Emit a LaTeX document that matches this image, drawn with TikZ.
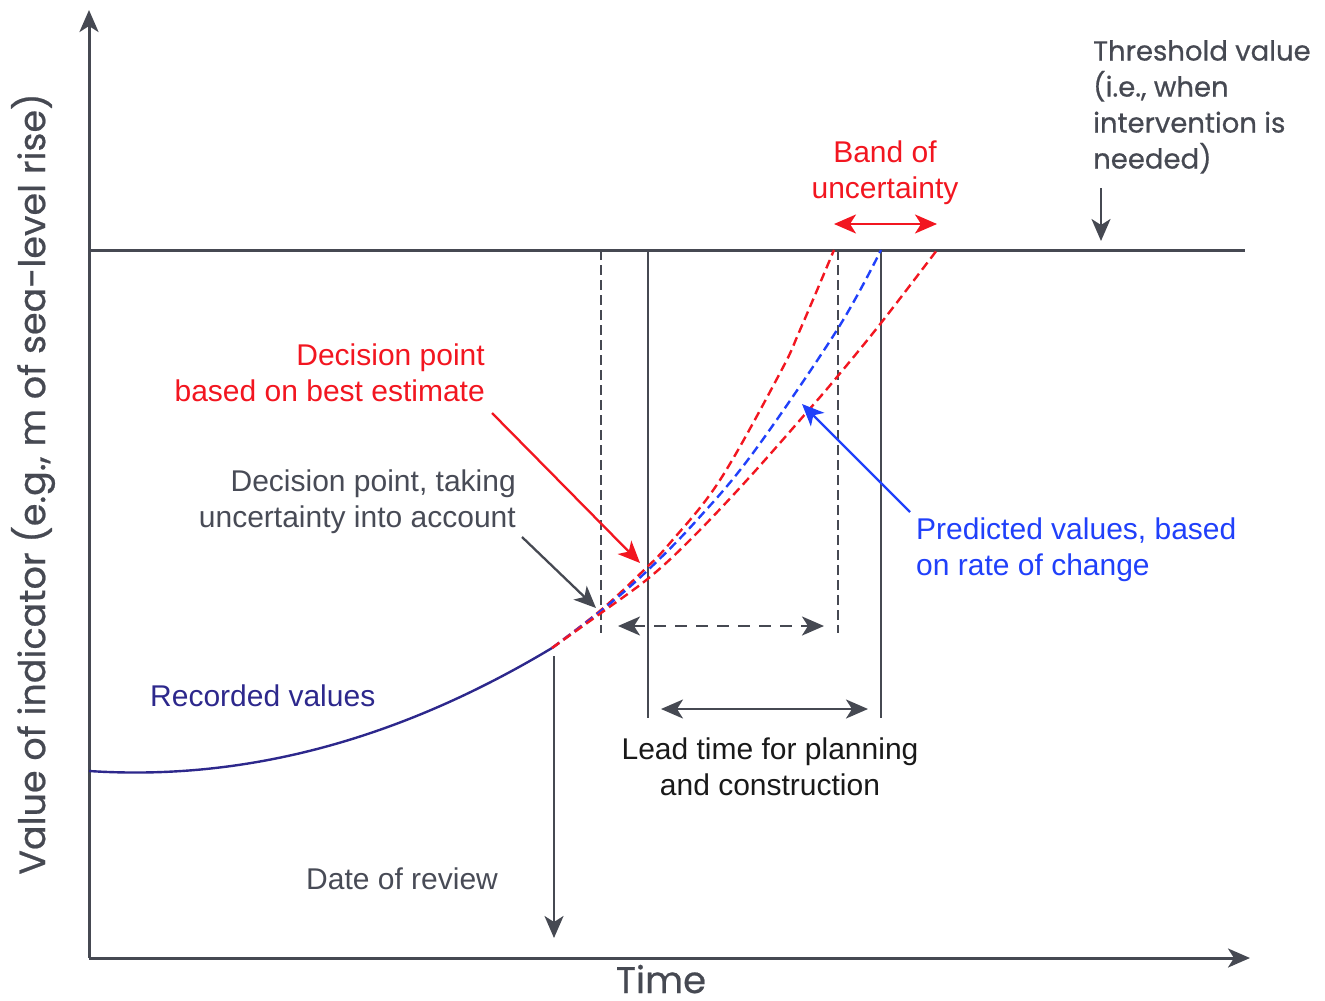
\documentclass[tikz,border=0pt]{standalone}
\usepackage{fontspec}
\setmainfont{Liberation Sans}
\newfontfamily\geo{Poppins}[FakeBold=0.6]
\usetikzlibrary{arrows.meta}
\definecolor{axisgray}{RGB}{70,73,82}
\definecolor{txtgray}{RGB}{72,75,86}
\definecolor{myred}{RGB}{242,22,32}
\definecolor{myblue}{RGB}{32,64,250}
\definecolor{navy}{RGB}{45,40,140}
\tikzset{
  tipend/.style={-{Stealth[length=22pt,width=19pt,inset=6pt]}},
  tipboth/.style={{Stealth[length=22pt,width=19pt,inset=6pt]}-{Stealth[length=22pt,width=19pt,inset=6pt]}},
  axisline/.style={draw=axisgray,line width=3pt},
  conn/.style={line width=2.3pt},
  vdash/.style={draw=axisgray,line width=2.8pt,dash pattern=on 10pt off 5pt},
  vsolid/.style={draw=axisgray,line width=2.7pt},
  predred/.style={draw=myred,line width=2.4pt,dash pattern=on 9pt off 5pt},
  predblue/.style={draw=myblue,line width=2.4pt,dash pattern=on 9pt off 5pt},
  lbl/.style={inner sep=0pt,font=\fontsize{30}{36}\selectfont},
  geolbl/.style={inner sep=0pt,font=\geo\fontsize{27.5}{36}\selectfont},
}
\begin{document}
\begin{tikzpicture}[x=1pt,y=-1pt]
\useasboundingbox (0,0) rectangle (1325,1001);
% axes
\coordinate (O) at (89,958);
\coordinate (ytop) at (89,10);
\coordinate (xend) at (1250,958);
\draw[axisline,tipend] (O) -- (ytop);
\draw[axisline,tipend] (O) -- (xend);
% threshold
\coordinate (thL) at (89,250);
\coordinate (thR) at (1245,250);
\draw[axisline] (thL) -- (thR);
% vertical lines
\coordinate (v1t) at (601,250); \coordinate (v1b) at (601,633);
\coordinate (v2t) at (648,250); \coordinate (v2b) at (648,718);
\coordinate (v3t) at (838,250); \coordinate (v3b) at (838,633);
\coordinate (v4t) at (881,250); \coordinate (v4b) at (881,718);
\draw[vdash] (v1t) -- (v1b);
\draw[vsolid] (v2t) -- (v2b);
\draw[vdash] (v3t) -- (v3b);
\draw[vsolid] (v4t) -- (v4b);
% recorded values
\draw[navy,line width=2.4pt] (89,771) .. controls (244.6,781.2) and (398.3,740.2) .. (552,648);
% predicted
\draw[predred] plot[smooth,tension=0.6] coordinates {(552,648) (601,610) (643,571) (670,543) (720,480) (780,373) (800,330) (834,250)};
\draw[predblue] plot[smooth,tension=0.6] coordinates {(552,648) (601,611) (647,571) (697,520) (753,453) (837,330) (881,250)};
\draw[predred] plot[smooth,tension=0.6] coordinates {(552,648) (601,613) (650,577) (693,537) (747,480) (807,412) (837,377) (881,323) (937,250)};
% labels
\node[geolbl,text=axisgray,anchor=north west,align=left] (thr) at (1093,40) {Threshold value\\(i.e., when\\intervention is\\needed)};
\node[lbl,text=myred,anchor=north,align=center] (band) at (885,141) {Band of\\uncertainty};
\node[lbl,text=myred,anchor=north east,align=right] (dbest) at (485,344) {Decision point\\based on best estimate};
\node[lbl,text=txtgray,anchor=north east,align=right] (dunc) at (516,470) {Decision point, taking\\uncertainty into account};
\node[lbl,text=myblue,anchor=north west,align=left] (predlbl) at (916,518) {Predicted values, based\\on rate of change};
\node[lbl,text=navy,anchor=north west] (rec) at (150,685) {Recorded values};
\node[lbl,text=black!90,anchor=north,align=center] (lead) at (770,738) {Lead time for planning\\and construction};
\node[lbl,text=txtgray,anchor=north west] (dor) at (306,868) {Date of review};
\node[inner sep=0pt,font=\geo\fontsize{37}{40}\selectfont,text=axisgray,anchor=base] (time) at (661,993) {Time};
\node[inner sep=0pt,font=\geo\fontsize{36.5}{40}\selectfont,text=axisgray,rotate=90] (ylab) at (33,484) {Value of indicator (e.g., m of sea-level rise)};
% connectors
\coordinate (thA) at (1101,188); \coordinate (thB) at (1101,241);
\draw[axisgray,conn,tipend] (thA) -- (thB);
\coordinate (bandL) at (834,224); \coordinate (bandR) at (937,224);
\draw[myred,conn,tipboth] (bandL) -- (bandR);
\coordinate (rA) at (492,413); \coordinate (rB) at (640,563);
\draw[myred,conn,tipend] (rA) -- (rB);
\coordinate (gA) at (522,537); \coordinate (gB) at (596,608);
\draw[axisgray,conn,tipend] (gA) -- (gB);
\coordinate (bA) at (910,512); \coordinate (bB) at (802,404);
\draw[myblue,conn,tipend] (bA) -- (bB);
\coordinate (dA) at (554,656); \coordinate (dB) at (554,938);
\draw[axisgray,conn,tipend] (dA) -- (dB);
\coordinate (hdL) at (618,626); \coordinate (hdR) at (824,626);
\draw[axisgray,conn,tipboth,dash pattern=on 12pt off 9pt] (hdL) -- (hdR);
\coordinate (hsL) at (661,709); \coordinate (hsR) at (868,709);
\draw[axisgray,conn,tipboth] (hsL) -- (hsR);
\end{tikzpicture}
\end{document}
